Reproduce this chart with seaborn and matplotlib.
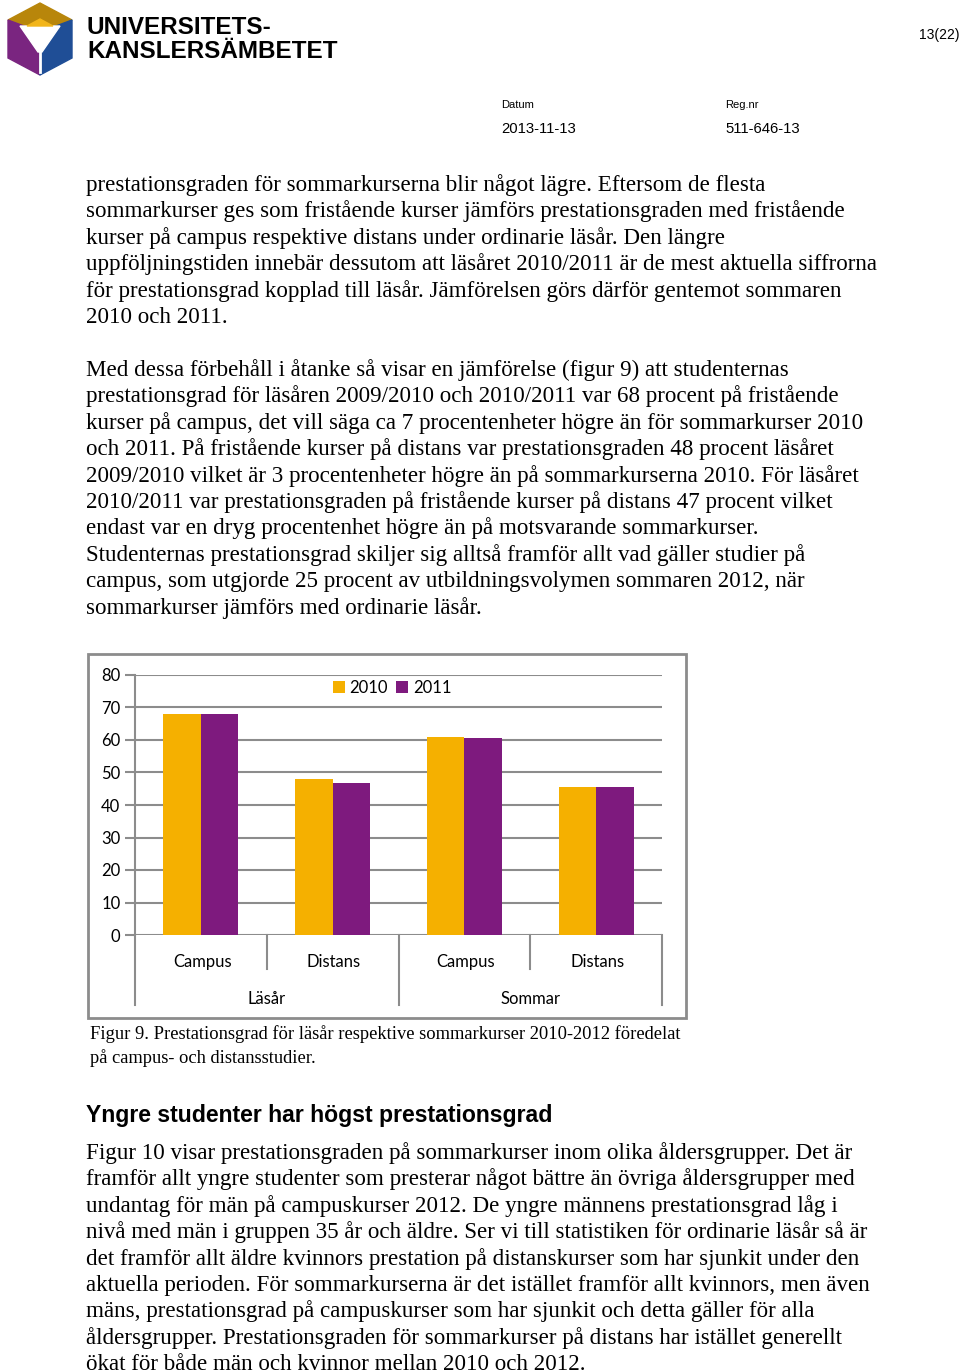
import numpy as np
import pandas as pd
import matplotlib
matplotlib.use("Agg")
import matplotlib.pyplot as plt
from matplotlib.patches import Polygon, Rectangle
import seaborn as sns

# chart data
grupper = ["Läsår", "Läsår", "Sommar", "Sommar"]
typer = ["Campus", "Distans", "Campus", "Distans"]
varden_2010 = [68, 48, 61, 45.5]
varden_2011 = [68, 46.7, 60.6, 45.5]
ar = ["2010", "2011"]
yticks = [0, 10, 20, 30, 40, 50, 60, 70, 80]
farger = ["#F5B000", "#7E1A7E"]

rader = []
for i in range(4):
    nyckel = grupper[i] + " " + typer[i]
    rader.append((nyckel, ar[0], varden_2010[i]))
    rader.append((nyckel, ar[1], varden_2011[i]))
df = pd.DataFrame(rader, columns=["kat", "ar", "varde"])

stycke1 = [
    "prestationsgraden för sommarkurserna blir något lägre. Eftersom de flesta",
    "sommarkurser ges som fristående kurser jämförs prestationsgraden med fristående",
    "kurser på campus respektive distans under ordinarie läsår. Den längre",
    "uppföljningstiden innebär dessutom att läsåret 2010/2011 är de mest aktuella siffrorna",
    "för prestationsgrad kopplad till läsår. Jämförelsen görs därför gentemot sommaren",
    "2010 och 2011.",
]
stycke2 = [
    "Med dessa förbehåll i åtanke så visar en jämförelse (figur 9) att studenternas",
    "prestationsgrad för läsåren 2009/2010 och 2010/2011 var 68 procent på fristående",
    "kurser på campus, det vill säga ca 7 procentenheter högre än för sommarkurser 2010",
    "och 2011. På fristående kurser på distans var prestationsgraden 48 procent läsåret",
    "2009/2010 vilket är 3 procentenheter högre än på sommarkurserna 2010. För läsåret",
    "2010/2011 var prestationsgraden på fristående kurser på distans 47 procent vilket",
    "endast var en dryg procentenhet högre än på motsvarande sommarkurser.",
    "Studenternas prestationsgrad skiljer sig alltså framför allt vad gäller studier på",
    "campus, som utgjorde 25 procent av utbildningsvolymen sommaren 2012, när",
    "sommarkurser jämförs med ordinarie läsår.",
]
stycke3 = [
    "Figur 10 visar prestationsgraden på sommarkurser inom olika åldersgrupper. Det är",
    "framför allt yngre studenter som presterar något bättre än övriga åldersgrupper med",
    "undantag för män på campuskurser 2012. De yngre männens prestationsgrad låg i",
    "nivå med män i gruppen 35 år och äldre. Ser vi till statistiken för ordinarie läsår så är",
    "det framför allt äldre kvinnors prestation på distanskurser som har sjunkit under den",
    "aktuella perioden. För sommarkurserna är det istället framför allt kvinnors, men även",
    "mäns, prestationsgrad på campuskurser som har sjunkit och detta gäller för alla",
    "åldersgrupper. Prestationsgraden för sommarkurser på distans har istället generellt",
    "ökat för både män och kvinnor mellan 2010 och 2012.",
]

fig = plt.figure(figsize=(9.6, 13.72), dpi=100)
fig.patch.set_facecolor("white")

# page background axes in pixel coordinates
bg = fig.add_axes([0, 0, 1, 1], zorder=0)
bg.set_xlim(0, 960)
bg.set_ylim(1372, 0)
bg.axis("off")

# logo
bg.add_patch(Polygon([(8, 20), (40, 3), (72, 20), (40, 32)], closed=True, color="#B8860B"))
bg.add_patch(Polygon([(8, 20), (40, 32), (40, 75), (8, 58)], closed=True, color="#7A2580"))
bg.add_patch(Polygon([(72, 20), (40, 32), (40, 75), (72, 58)], closed=True, color="#1F4E96"))
bg.add_patch(Polygon([(20, 26), (60, 26), (42, 52), (38, 52)], closed=True, color="white"))
bg.add_patch(Polygon([(27, 26), (53, 26), (40, 19)], closed=True, color="#F2B51A"))
bg.plot([40, 40], [50, 72], color="white", lw=2)

sans = "Liberation Sans"
bg.text(87, 34, "UNIVERSITETS-", fontsize=17.5, fontweight="bold", family=sans, va="baseline")
bg.text(87, 58, "KANSLERSÄMBETET", fontsize=17.5, fontweight="bold", family=sans, va="baseline")

bg.text(960, 39, "13(22)", fontsize=10, family=sans, ha="right", va="baseline")
bg.text(501, 108, "Datum", fontsize=8, family=sans, va="baseline")
bg.text(725, 108, "Reg.nr", fontsize=8, family=sans, va="baseline")
bg.text(501, 133, "2013-11-13", fontsize=10.7, family=sans, va="baseline")
bg.text(725, 133, "511-646-13", fontsize=10.7, family=sans, va="baseline")

serif = "Liberation Serif"
for start, rader_txt in [(184, stycke1), (369, stycke2), (1152, stycke3)]:
    for i, rad in enumerate(rader_txt):
        bg.text(86, start + i * 26.4 + 7, rad, fontsize=16.55, family=serif, va="baseline")

bg.text(90, 1039, "Figur 9. Prestationsgrad för läsår respektive sommarkurser 2010-2012 föredelat",
        fontsize=13.3, family=serif, va="baseline")
bg.text(90, 1063, "på campus- och distansstudier.", fontsize=13.3, family=serif, va="baseline")
bg.text(86, 1122, "Yngre studenter har högst prestationsgrad", fontsize=16.6, fontweight="bold",
        family=sans, va="baseline")

# chart frame
bg.add_patch(Rectangle((88, 654), 598, 364, fill=False, edgecolor="#8C8C8C", lw=2))

# chart
ax = fig.add_axes([135 / 960, 1 - 935 / 1372, 527 / 960, 260 / 1372], zorder=2)
ax.set_facecolor("none")
sns.barplot(data=df, x="kat", y="varde", hue="ar", palette=farger, width=0.57,
            saturation=1, ax=ax, zorder=3)
ax.set_ylim(0, 80)
ax.set_xlim(-0.5, 3.5)
ax.set_yticks(yticks)
ax.yaxis.grid(True, color="#8C8C8C", lw=1.5)
ax.set_axisbelow(True)
for s in ["top", "right", "bottom"]:
    ax.spines[s].set_visible(False)
ax.spines["left"].set_color("#8C8C8C")
ax.spines["left"].set_linewidth(1.5)
ax.tick_params(axis="y", length=7, width=1.5, color="#8C8C8C", labelsize=12, pad=3.5)
ax.set_yticklabels([str(v) for v in yticks], family="Lato")
ax.set_xticks([])
ax.set_xlabel("")
ax.set_ylabel("")

trans = ax.get_xaxis_transform()
for x in [-0.5, 1.5, 3.5]:
    ax.plot([x, x], [0, -0.27], color="#8C8C8C", lw=1.5, transform=trans, clip_on=False)
for x in [0.5, 2.5]:
    ax.plot([x, x], [0, -0.13], color="#8C8C8C", lw=1.5, transform=trans, clip_on=False)
for i, t in enumerate(typer):
    ax.text(i + 0.01, -0.103, t, transform=trans, ha="center", va="center", fontsize=12, family="Lato")
ax.text(0.5, -0.245, "Läsår", transform=trans, ha="center", va="center", fontsize=12, family="Lato")
ax.text(2.5, -0.245, "Sommar", transform=trans, ha="center", va="center", fontsize=12, family="Lato")

leg = ax.legend(loc="upper center", bbox_to_anchor=(0.488, 1.04), ncol=2, frameon=False,
                handlelength=0.7, handleheight=0.7, handletextpad=0.3, columnspacing=0.5,
                prop={"family": "Lato", "size": 12})

fig.savefig("out.png", dpi=100)
